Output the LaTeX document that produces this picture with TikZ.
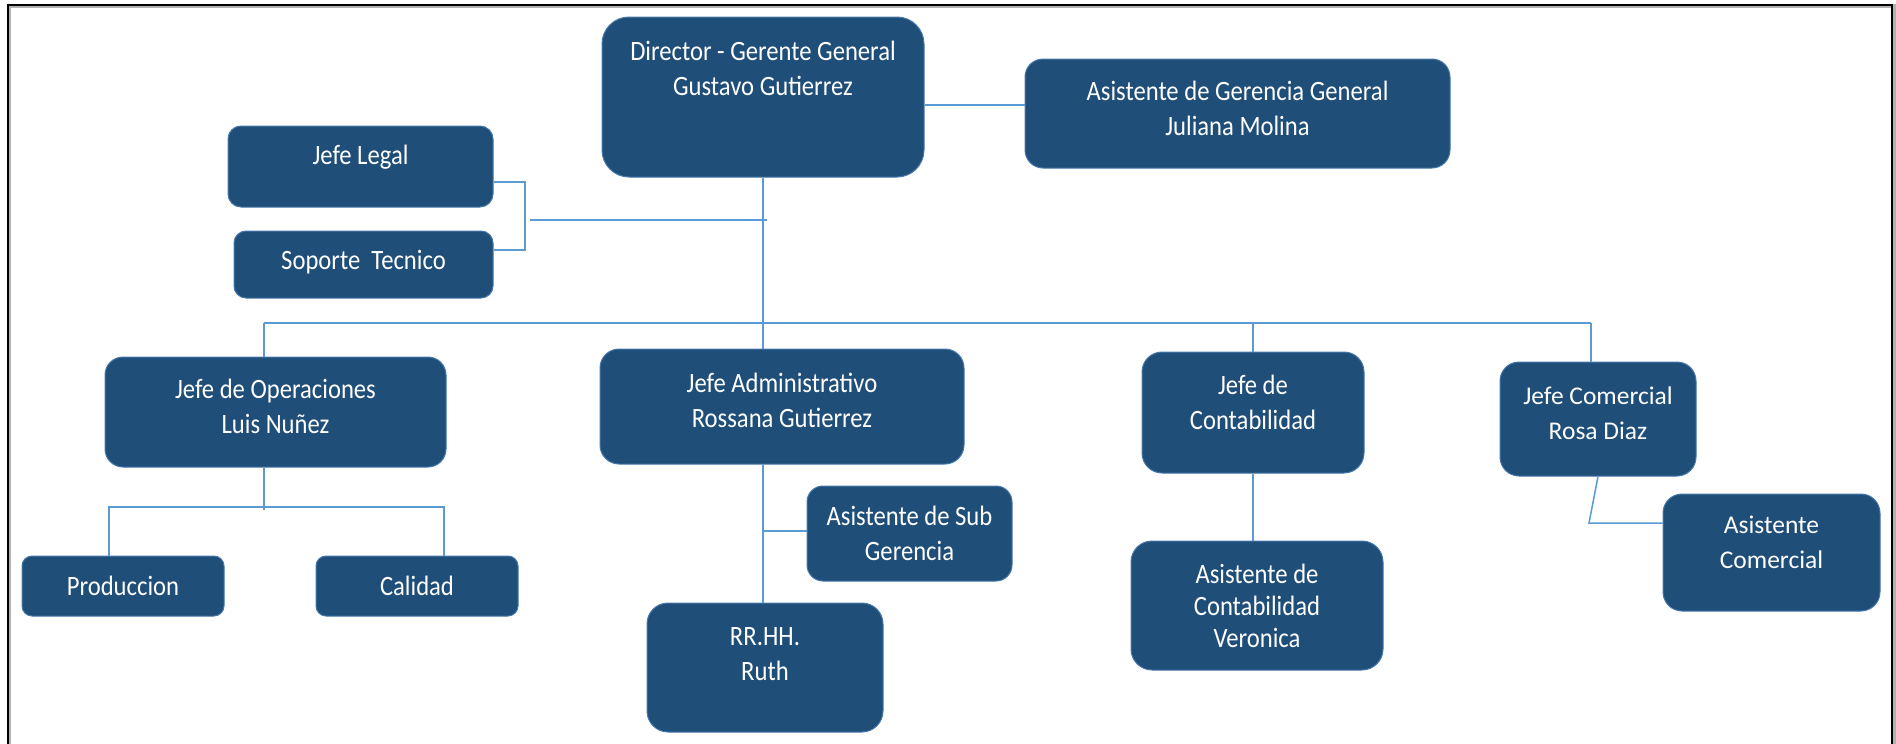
\documentclass[tikz,border=0pt]{standalone}
\usepackage{fontspec}
\newfontfamily\orgfont{Carlito}[FakeStretch=0.88]
\newfontfamily\orgwidefont{Carlito}
\usetikzlibrary{calc}

\definecolor{unitfill}{RGB}{31,78,121}
\definecolor{unitedge}{RGB}{70,120,170}
\definecolor{linkblue}{RGB}{91,155,213}

\tikzset{
  unit/.style={rectangle, draw=unitedge, fill=unitfill, line width=1pt, rounded corners=#1, inner sep=0pt},
  unit/.default=14pt,
  caption/.style={text=white, align=center, inner sep=0pt, font=\orgfont\fontsize{28}{35}\selectfont},
  widecaption/.style={caption, font=\orgwidefont\fontsize{25.5}{35}\selectfont},
  link/.style={draw=linkblue, line width=1.5pt},
}

\begin{document}
\begin{tikzpicture}[x=1pt, y=-1pt]
    \useasboundingbox (0,0) rectangle (1896,744);
    \fill[white] (0,0) rectangle (1896,744);
    \draw[line width=4pt, gray!60] (9,6) rectangle (1894,780);
    \draw[line width=2.5pt] (8,5) rectangle (1892,780);

    % Top: director and assistant
    \node[unit=27pt, minimum width=322pt, minimum height=160pt,
          label={[caption, yshift=29pt]center:{Director - Gerente General\\Gustavo Gutierrez}}] (dir) at (763,97) {};
    \node[unit=18pt, minimum width=425pt, minimum height=109pt,
          label={[caption, yshift=5pt]center:{Asistente de Gerencia General\\Juliana Molina}}] (agg) at (1237.5,113.5) {};

    % Staff units
    \node[unit=13pt, minimum width=265pt, minimum height=81pt,
          label={[caption, yshift=9pt]center:{Jefe Legal}}] (legal) at (360.5,166.5) {};
    \node[unit=12pt, minimum width=259pt, minimum height=67pt,
          label={[caption, yshift=2pt]center:{Soporte~ Tecnico}}] (soporte) at (363.5,264.5) {};

    % Row 1: heads
    \node[unit=18pt, minimum width=341pt, minimum height=110pt,
          label={[caption, yshift=6pt]center:{Jefe de Operaciones\\Luis Nuñez}}] (ops) at (275.5,412) {};
    \node[unit=19pt, minimum width=364pt, minimum height=115pt,
          label={[caption, yshift=6pt]center:{Jefe Administrativo\\Rossana Gutierrez}}] (admin) at (782,406.5) {};
    \node[unit=20pt, minimum width=222pt, minimum height=121pt,
          label={[caption, yshift=10pt]center:{Jefe de\\Contabilidad}}] (conta) at (1253,412.5) {};
    \node[unit=19pt, minimum width=196pt, minimum height=114pt,
          label={[widecaption, yshift=6pt]center:{Jefe Comercial\\Rosa Diaz}}] (comercial) at (1598,419) {};

    % Row 2: staff under each head
    \node[unit=10pt, minimum width=202pt, minimum height=60pt,
          label={[caption]center:{Produccion}}] (prod) at (123,586) {};
    \node[unit=10pt, minimum width=202pt, minimum height=60pt,
          label={[caption]center:{Calidad}}] (calidad) at (417,586) {};
    \node[unit=16pt, minimum width=205pt, minimum height=95pt,
          label={[caption]center:{Asistente de Sub\\Gerencia}}] (subger) at (909.5,533.5) {};
    \node[unit=21pt, minimum width=236pt, minimum height=129pt,
          label={[caption, yshift=13pt]center:{RR.HH.\\Ruth}}] (rrhh) at (765,667.5) {};
    \node[unit=21pt, minimum width=252pt, minimum height=129pt,
          label={[caption, font=\orgfont\fontsize{28}{32}\selectfont]center:{Asistente de\\Contabilidad\\Veronica}}] (asconta) at (1257,605.5) {};
    \node[unit=19pt, minimum width=217pt, minimum height=117pt,
          label={[widecaption, yshift=10pt]center:{Asistente\\Comercial}}] (ascom) at (1771.5,552.5) {};

    % Junction points
    \coordinate (brT) at (525,182);
    \coordinate (brB) at (525,250);
    \coordinate (staff) at (530,220);
    \coordinate (busL) at (264,323);
    \coordinate (busR) at (1591,323);
    \coordinate (prodT) at (109,507);
    \coordinate (calT) at (444,507);
    \coordinate (subJ) at (764,531);
    \coordinate (comJ) at (1589,523);

    % Director links
    \draw[link] ([yshift=-8pt]dir.east) -- ([yshift=-8pt]dir.east -| agg.west);
    \draw[link] (legal.east |- brT) -- (brT) -- (brB) -- (soporte.east |- brB);
    \draw[link] (staff) -- ($(dir.south |- staff)+(4,0)$);
    \draw[link] (dir.south) -- (dir.south |- admin.north);

    % Bus to heads
    \draw[link] (busL) -- (busR);
    \draw[link] (busL) -- (busL |- ops.north);
    \draw[link] (conta.north |- busL) -- (conta.north);
    \draw[link] (busR) -- (busR |- comercial.north);

    % Heads to their units
    \draw[link] (busL |- ops.south) -- ($(busL |- prodT)+(0,3)$);
    \draw[link] (prodT |- prod.north) -- (prodT) -- (calT) -- (calT |- calidad.north);
    \draw[link] (dir.south |- admin.south) -- (dir.south |- rrhh.north);
    \draw[link] (subJ) -- (subJ -| subger.west);
    \draw[link] (conta.south) -- (conta.south |- asconta.north);
    \draw[link] (comercial.south) -- (comJ) -- (comJ -| ascom.west);
\end{tikzpicture}
\end{document}
